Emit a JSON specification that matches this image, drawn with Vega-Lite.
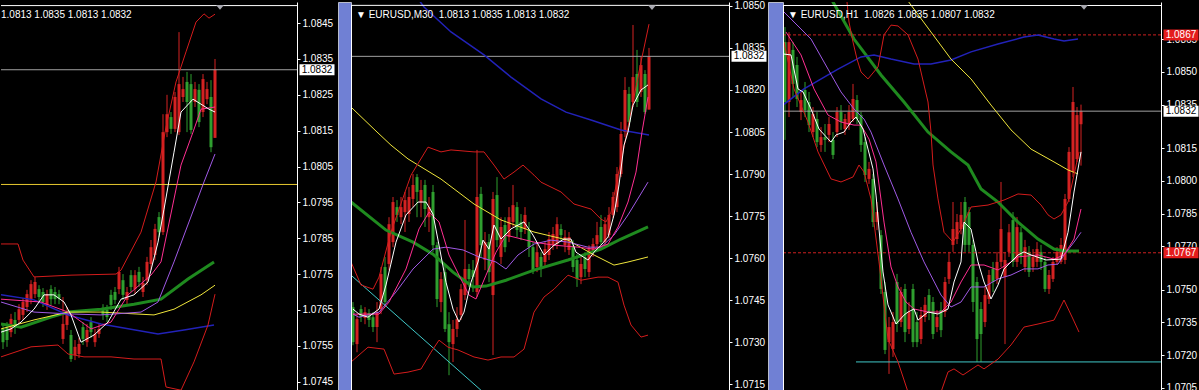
{
"$schema": "https://vega.github.io/schema/vega-lite/v6.json",
"background": "#000000",
"padding": 0,
"spacing": 0,
"bounds": "flush",
"config": {"view": {"stroke": null}, "text": {"font": "Liberation Sans"}},
"datasets": {
"c1": [
{"i":0,"o":1.07597,"h":1.07608,"l":1.07541,"c":1.07560},
{"i":1,"o":1.07602,"h":1.07616,"l":1.07547,"c":1.07566},
{"i":2,"o":1.07588,"h":1.07639,"l":1.07574,"c":1.07625},
{"i":3,"o":1.07622,"h":1.07644,"l":1.07583,"c":1.07602},
{"i":4,"o":1.07622,"h":1.07666,"l":1.07611,"c":1.07652},
{"i":5,"o":1.07636,"h":1.07683,"l":1.07622,"c":1.07672},
{"i":6,"o":1.07658,"h":1.07706,"l":1.07644,"c":1.07694},
{"i":7,"o":1.07680,"h":1.07733,"l":1.07666,"c":1.07722},
{"i":8,"o":1.07694,"h":1.07742,"l":1.07683,"c":1.07728},
{"i":9,"o":1.07708,"h":1.07719,"l":1.07672,"c":1.07686},
{"i":10,"o":1.07700,"h":1.07711,"l":1.07658,"c":1.07672},
{"i":11,"o":1.07664,"h":1.07706,"l":1.07650,"c":1.07694},
{"i":12,"o":1.07708,"h":1.07719,"l":1.07664,"c":1.07680},
{"i":13,"o":1.07700,"h":1.07714,"l":1.07666,"c":1.07680},
{"i":14,"o":1.07694,"h":1.07706,"l":1.07666,"c":1.07682},
{"i":15,"o":1.07569,"h":1.07686,"l":1.07555,"c":1.07611},
{"i":16,"o":1.07608,"h":1.07658,"l":1.07594,"c":1.07639},
{"i":17,"o":1.07580,"h":1.07594,"l":1.07505,"c":1.07513},
{"i":18,"o":1.07524,"h":1.07566,"l":1.07510,"c":1.07547},
{"i":19,"o":1.07527,"h":1.07572,"l":1.07516,"c":1.07555},
{"i":20,"o":1.07602,"h":1.07616,"l":1.07552,"c":1.07569},
{"i":21,"o":1.07560,"h":1.07611,"l":1.07547,"c":1.07594},
{"i":22,"o":1.07616,"h":1.07630,"l":1.07572,"c":1.07588},
{"i":23,"o":1.07560,"h":1.07597,"l":1.07547,"c":1.07583},
{"i":24,"o":1.07583,"h":1.07611,"l":1.07572,"c":1.07597},
{"i":25,"o":1.07652,"h":1.07666,"l":1.07622,"c":1.07636},
{"i":26,"o":1.07650,"h":1.07664,"l":1.07616,"c":1.07630},
{"i":27,"o":1.07692,"h":1.07706,"l":1.07650,"c":1.07664},
{"i":28,"o":1.07700,"h":1.07714,"l":1.07666,"c":1.07678},
{"i":29,"o":1.07708,"h":1.07770,"l":1.07694,"c":1.07756},
{"i":30,"o":1.07733,"h":1.07750,"l":1.07678,"c":1.07692},
{"i":31,"o":1.07678,"h":1.07714,"l":1.07666,"c":1.07700},
{"i":32,"o":1.07747,"h":1.07761,"l":1.07700,"c":1.07714},
{"i":33,"o":1.07708,"h":1.07761,"l":1.07694,"c":1.07747},
{"i":34,"o":1.07756,"h":1.07770,"l":1.07714,"c":1.07728},
{"i":35,"o":1.07700,"h":1.07742,"l":1.07686,"c":1.07725},
{"i":36,"o":1.07733,"h":1.07798,"l":1.07719,"c":1.07784},
{"i":37,"o":1.07778,"h":1.07845,"l":1.07761,"c":1.07825},
{"i":38,"o":1.07803,"h":1.07890,"l":1.07789,"c":1.07876},
{"i":39,"o":1.07909,"h":1.07923,"l":1.07853,"c":1.07867},
{"i":40,"o":1.07867,"h":1.08196,"l":1.07859,"c":1.08146},
{"i":41,"o":1.08146,"h":1.08250,"l":1.08132,"c":1.08196},
{"i":42,"o":1.08188,"h":1.08202,"l":1.08141,"c":1.08155},
{"i":43,"o":1.08155,"h":1.08258,"l":1.08146,"c":1.08244},
{"i":44,"o":1.08146,"h":1.08425,"l":1.08138,"c":1.08280},
{"i":45,"o":1.08244,"h":1.08300,"l":1.08230,"c":1.08266},
{"i":46,"o":1.08286,"h":1.08314,"l":1.08146,"c":1.08230},
{"i":47,"o":1.08280,"h":1.08308,"l":1.08141,"c":1.08152},
{"i":48,"o":1.08230,"h":1.08286,"l":1.08216,"c":1.08266},
{"i":49,"o":1.08264,"h":1.08280,"l":1.08160,"c":1.08174},
{"i":50,"o":1.08202,"h":1.08308,"l":1.08188,"c":1.08294},
{"i":51,"o":1.08238,"h":1.08286,"l":1.08224,"c":1.08266},
{"i":52,"o":1.08244,"h":1.08291,"l":1.08090,"c":1.08104},
{"i":53,"o":1.0813,"h":1.0835,"l":1.0813,"c":1.0832}
],
"c2": [
{"i":0,"o":1.07425,"h":1.07443,"l":1.07289,"c":1.07300},
{"i":1,"o":1.07293,"h":1.07400,"l":1.07264,"c":1.07382},
{"i":2,"o":1.07418,"h":1.07432,"l":1.07372,"c":1.07389},
{"i":3,"o":1.07386,"h":1.07425,"l":1.07364,"c":1.07407},
{"i":4,"o":1.07404,"h":1.07418,"l":1.07354,"c":1.07379},
{"i":5,"o":1.07389,"h":1.07407,"l":1.07336,"c":1.07354},
{"i":6,"o":1.07354,"h":1.07443,"l":1.07300,"c":1.07407},
{"i":7,"o":1.07418,"h":1.07568,"l":1.07400,"c":1.07543},
{"i":8,"o":1.07568,"h":1.07604,"l":1.07425,"c":1.07443},
{"i":9,"o":1.07579,"h":1.07746,"l":1.07557,"c":1.07721},
{"i":10,"o":1.07657,"h":1.07818,"l":1.07639,"c":1.07800},
{"i":11,"o":1.07782,"h":1.07807,"l":1.07729,"c":1.07754},
{"i":12,"o":1.07746,"h":1.07818,"l":1.07721,"c":1.07782},
{"i":13,"o":1.07764,"h":1.07836,"l":1.07693,"c":1.07807},
{"i":14,"o":1.07757,"h":1.07854,"l":1.07729,"c":1.07818},
{"i":15,"o":1.07811,"h":1.07900,"l":1.07782,"c":1.07861},
{"i":16,"o":1.07889,"h":1.07900,"l":1.07746,"c":1.07836},
{"i":17,"o":1.07800,"h":1.07879,"l":1.07746,"c":1.07843},
{"i":18,"o":1.07861,"h":1.07879,"l":1.07711,"c":1.07775},
{"i":19,"o":1.07746,"h":1.07818,"l":1.07693,"c":1.07782},
{"i":20,"o":1.07836,"h":1.07861,"l":1.07621,"c":1.07646},
{"i":21,"o":1.07646,"h":1.07657,"l":1.07425,"c":1.07454},
{"i":22,"o":1.07443,"h":1.07550,"l":1.07407,"c":1.07525},
{"i":23,"o":1.07550,"h":1.07579,"l":1.07336,"c":1.07347},
{"i":24,"o":1.07364,"h":1.07407,"l":1.07182,"c":1.07300},
{"i":25,"o":1.07293,"h":1.07379,"l":1.07229,"c":1.07347},
{"i":26,"o":1.07347,"h":1.07425,"l":1.07318,"c":1.07382},
{"i":27,"o":1.07397,"h":1.07507,"l":1.07379,"c":1.07489},
{"i":28,"o":1.07468,"h":1.07736,"l":1.07450,"c":1.07561},
{"i":29,"o":1.07561,"h":1.07579,"l":1.07497,"c":1.07525},
{"i":30,"o":1.07557,"h":1.07593,"l":1.07479,"c":1.07532},
{"i":31,"o":1.07479,"h":1.07986,"l":1.07461,"c":1.07818},
{"i":32,"o":1.07829,"h":1.07854,"l":1.07604,"c":1.07646},
{"i":33,"o":1.07593,"h":1.07693,"l":1.07557,"c":1.07657},
{"i":34,"o":1.07657,"h":1.07686,"l":1.07514,"c":1.07550},
{"i":35,"o":1.07468,"h":1.07836,"l":1.07254,"c":1.07811},
{"i":36,"o":1.07825,"h":1.07889,"l":1.07639,"c":1.07664},
{"i":37,"o":1.07604,"h":1.07746,"l":1.07579,"c":1.07711},
{"i":38,"o":1.07718,"h":1.07746,"l":1.07621,"c":1.07639},
{"i":39,"o":1.07675,"h":1.07782,"l":1.07657,"c":1.07746},
{"i":40,"o":1.07729,"h":1.07861,"l":1.07711,"c":1.07789},
{"i":41,"o":1.07782,"h":1.07800,"l":1.07675,"c":1.07700},
{"i":42,"o":1.07729,"h":1.07757,"l":1.07664,"c":1.07693},
{"i":43,"o":1.07704,"h":1.07782,"l":1.07686,"c":1.07754},
{"i":44,"o":1.07700,"h":1.07729,"l":1.07604,"c":1.07639},
{"i":45,"o":1.07639,"h":1.07657,"l":1.07543,"c":1.07557},
{"i":46,"o":1.07568,"h":1.07650,"l":1.07550,"c":1.07621},
{"i":47,"o":1.07604,"h":1.07621,"l":1.07532,"c":1.07568},
{"i":48,"o":1.07586,"h":1.07657,"l":1.07568,"c":1.07632},
{"i":49,"o":1.07611,"h":1.07693,"l":1.07593,"c":1.07668},
{"i":50,"o":1.07646,"h":1.07711,"l":1.07629,"c":1.07686},
{"i":51,"o":1.07650,"h":1.07746,"l":1.07632,"c":1.07721},
{"i":52,"o":1.07704,"h":1.07721,"l":1.07664,"c":1.07682},
{"i":53,"o":1.07646,"h":1.07700,"l":1.07621,"c":1.07675},
{"i":54,"o":1.07629,"h":1.07693,"l":1.07611,"c":1.07675},
{"i":55,"o":1.07639,"h":1.07664,"l":1.07550,"c":1.07568},
{"i":56,"o":1.07593,"h":1.07614,"l":1.07497,"c":1.07525},
{"i":57,"o":1.07532,"h":1.07604,"l":1.07507,"c":1.07579},
{"i":58,"o":1.07604,"h":1.07621,"l":1.07532,"c":1.07561},
{"i":59,"o":1.07550,"h":1.07646,"l":1.07532,"c":1.07632},
{"i":60,"o":1.07621,"h":1.07671,"l":1.07604,"c":1.07650},
{"i":61,"o":1.07650,"h":1.07729,"l":1.07636,"c":1.07682},
{"i":62,"o":1.07711,"h":1.07754,"l":1.07646,"c":1.07657},
{"i":63,"o":1.07657,"h":1.07746,"l":1.07643,"c":1.07721},
{"i":64,"o":1.07682,"h":1.07782,"l":1.07671,"c":1.07754},
{"i":65,"o":1.07754,"h":1.07836,"l":1.07743,"c":1.07818},
{"i":66,"o":1.07782,"h":1.07925,"l":1.07764,"c":1.07900},
{"i":67,"o":1.07900,"h":1.08086,"l":1.07889,"c":1.08043},
{"i":68,"o":1.08050,"h":1.08246,"l":1.08032,"c":1.08200},
{"i":69,"o":1.08186,"h":1.08211,"l":1.08068,"c":1.08086},
{"i":70,"o":1.08157,"h":1.08432,"l":1.08139,"c":1.08246},
{"i":71,"o":1.08257,"h":1.08343,"l":1.08139,"c":1.08157},
{"i":72,"o":1.08193,"h":1.08318,"l":1.08175,"c":1.08289},
{"i":73,"o":1.08257,"h":1.08271,"l":1.08114,"c":1.08121},
{"i":74,"o":1.0813,"h":1.0835,"l":1.0813,"c":1.0832}
],
"c3": [
{"i":0,"o":1.08637,"h":1.08706,"l":1.08188,"c":1.08362},
{"i":1,"o":1.08362,"h":1.08683,"l":1.08293,"c":1.08637},
{"i":2,"o":1.08601,"h":1.08637,"l":1.08385,"c":1.08445},
{"i":3,"o":1.08532,"h":1.08569,"l":1.08339,"c":1.08376},
{"i":4,"o":1.08316,"h":1.08408,"l":1.08279,"c":1.08371},
{"i":5,"o":1.08417,"h":1.08454,"l":1.08293,"c":1.08325},
{"i":6,"o":1.08362,"h":1.08408,"l":1.08224,"c":1.08256},
{"i":7,"o":1.08224,"h":1.08339,"l":1.08201,"c":1.08307},
{"i":8,"o":1.08284,"h":1.08316,"l":1.08155,"c":1.08178},
{"i":9,"o":1.08165,"h":1.08247,"l":1.08133,"c":1.08201},
{"i":10,"o":1.08201,"h":1.08261,"l":1.08133,"c":1.08188},
{"i":11,"o":1.08211,"h":1.08293,"l":1.08178,"c":1.08261},
{"i":12,"o":1.08188,"h":1.08224,"l":1.08100,"c":1.08119},
{"i":13,"o":1.08224,"h":1.08339,"l":1.08201,"c":1.08316},
{"i":14,"o":1.08316,"h":1.08348,"l":1.08234,"c":1.08270},
{"i":15,"o":1.08238,"h":1.08307,"l":1.08211,"c":1.08284},
{"i":16,"o":1.08256,"h":1.08348,"l":1.08234,"c":1.08316},
{"i":17,"o":1.08284,"h":1.08445,"l":1.08270,"c":1.08376},
{"i":18,"o":1.08371,"h":1.08394,"l":1.08261,"c":1.08284},
{"i":19,"o":1.08302,"h":1.08316,"l":1.08133,"c":1.08165},
{"i":20,"o":1.08178,"h":1.08201,"l":1.07995,"c":1.08027},
{"i":21,"o":1.08009,"h":1.08087,"l":1.07986,"c":1.08055},
{"i":22,"o":1.08009,"h":1.08032,"l":1.07788,"c":1.07811},
{"i":23,"o":1.07811,"h":1.07903,"l":1.07774,"c":1.07857},
{"i":24,"o":1.07751,"h":1.07774,"l":1.07481,"c":1.07504},
{"i":25,"o":1.07490,"h":1.07536,"l":1.07205,"c":1.07224},
{"i":26,"o":1.07260,"h":1.07375,"l":1.07114,"c":1.07329},
{"i":27,"o":1.07228,"h":1.07398,"l":1.07192,"c":1.07352},
{"i":28,"o":1.07536,"h":1.07573,"l":1.07306,"c":1.07343},
{"i":29,"o":1.07352,"h":1.07513,"l":1.07329,"c":1.07490},
{"i":30,"o":1.07504,"h":1.07527,"l":1.07260,"c":1.07306},
{"i":31,"o":1.07320,"h":1.07444,"l":1.07297,"c":1.07398},
{"i":32,"o":1.07504,"h":1.07527,"l":1.07237,"c":1.07260},
{"i":33,"o":1.07352,"h":1.07398,"l":1.07237,"c":1.07260},
{"i":34,"o":1.07274,"h":1.07421,"l":1.07251,"c":1.07384},
{"i":35,"o":1.07375,"h":1.07467,"l":1.07352,"c":1.07431},
{"i":36,"o":1.07476,"h":1.07504,"l":1.07361,"c":1.07398},
{"i":37,"o":1.07444,"h":1.07467,"l":1.07274,"c":1.07297},
{"i":38,"o":1.07329,"h":1.07407,"l":1.07306,"c":1.07375},
{"i":39,"o":1.07407,"h":1.07444,"l":1.07283,"c":1.07315},
{"i":40,"o":1.07398,"h":1.07559,"l":1.07375,"c":1.07536},
{"i":41,"o":1.07550,"h":1.07674,"l":1.07527,"c":1.07628},
{"i":42,"o":1.07706,"h":1.07903,"l":1.07674,"c":1.07779},
{"i":43,"o":1.07733,"h":1.07848,"l":1.07710,"c":1.07811},
{"i":44,"o":1.07779,"h":1.07903,"l":1.07755,"c":1.07844},
{"i":45,"o":1.07903,"h":1.07926,"l":1.07674,"c":1.07706},
{"i":46,"o":1.07857,"h":1.07880,"l":1.07674,"c":1.07706},
{"i":47,"o":1.07706,"h":1.07729,"l":1.07398,"c":1.07444},
{"i":48,"o":1.07536,"h":1.07559,"l":1.07169,"c":1.07274},
{"i":49,"o":1.07412,"h":1.07444,"l":1.07169,"c":1.07297},
{"i":50,"o":1.07352,"h":1.07513,"l":1.07329,"c":1.07476},
{"i":51,"o":1.07458,"h":1.07591,"l":1.07435,"c":1.07568},
{"i":52,"o":1.07596,"h":1.07628,"l":1.07490,"c":1.07536},
{"i":53,"o":1.07550,"h":1.07674,"l":1.07527,"c":1.07628},
{"i":54,"o":1.07628,"h":1.07995,"l":1.07605,"c":1.07779},
{"i":55,"o":1.07559,"h":1.07674,"l":1.07251,"c":1.07637},
{"i":56,"o":1.07674,"h":1.07802,"l":1.07651,"c":1.07764},
{"i":57,"o":1.07820,"h":1.07857,"l":1.07605,"c":1.07628},
{"i":58,"o":1.07628,"h":1.07834,"l":1.07605,"c":1.07788},
{"i":59,"o":1.07764,"h":1.07788,"l":1.07618,"c":1.07651},
{"i":60,"o":1.07605,"h":1.07729,"l":1.07582,"c":1.07696},
{"i":61,"o":1.07674,"h":1.07701,"l":1.07559,"c":1.07582},
{"i":62,"o":1.07605,"h":1.07687,"l":1.07582,"c":1.07651},
{"i":63,"o":1.07628,"h":1.07719,"l":1.07605,"c":1.07687},
{"i":64,"o":1.07674,"h":1.07706,"l":1.07591,"c":1.07628},
{"i":65,"o":1.07628,"h":1.07651,"l":1.07490,"c":1.07504},
{"i":66,"o":1.07504,"h":1.07591,"l":1.07481,"c":1.07568},
{"i":67,"o":1.07550,"h":1.07651,"l":1.07536,"c":1.07628},
{"i":68,"o":1.07628,"h":1.07696,"l":1.07614,"c":1.07674},
{"i":69,"o":1.07628,"h":1.07738,"l":1.07618,"c":1.07706},
{"i":70,"o":1.07637,"h":1.07940,"l":1.07618,"c":1.07917},
{"i":71,"o":1.07917,"h":1.08155,"l":1.07903,"c":1.08133},
{"i":72,"o":1.08041,"h":1.08431,"l":1.08018,"c":1.08362},
{"i":73,"o":1.08100,"h":1.08339,"l":1.08087,"c":1.08302},
{"i":74,"o":1.0826,"h":1.0835,"l":1.0807,"c":1.0832}
],
"l1": [
{"s":"g","i":-0.5,"p":1.07611},{"s":"g","i":4.5,"p":1.07602},{"s":"g","i":12,"p":1.07630},{"s":"g","i":16.25,"p":1.07644},{"s":"g","i":24.5,"p":1.07652},{"s":"g","i":32.75,"p":1.07666},{"s":"g","i":39.5,"p":1.07680},{"s":"g","i":46.25,"p":1.07736},{"s":"g","i":52.75,"p":1.07784},
{"s":"b","i":-0.5,"p":1.07692},{"s":"b","i":7.75,"p":1.07678},{"s":"b","i":16.25,"p":1.07636},{"s":"b","i":24.5,"p":1.07611},{"s":"b","i":38.75,"p":1.07583},{"s":"b","i":45.25,"p":1.07594},{"s":"b","i":52.75,"p":1.07608},
{"s":"ub","i":-0.5,"p":1.07834},{"s":"ub","i":3.75,"p":1.07834},{"s":"ub","i":5,"p":1.07789},{"s":"ub","i":7.75,"p":1.07742},{"s":"ub","i":17,"p":1.07747},{"s":"ub","i":28.25,"p":1.07750},{"s":"ub","i":29.5,"p":1.07761},{"s":"ub","i":34.5,"p":1.07867},{"s":"ub","i":38.25,"p":1.08007},{"s":"ub","i":40.75,"p":1.08160},{"s":"ub","i":43.25,"p":1.08286},{"s":"ub","i":45.75,"p":1.08370},{"s":"ub","i":48.25,"p":1.08453},{"s":"ub","i":50.25,"p":1.08476},{"s":"ub","i":51.5,"p":1.08464},{"s":"ub","i":53,"p":1.08475},
{"s":"lb","i":-0.5,"p":1.07519},{"s":"lb","i":7,"p":1.07547},{"s":"lb","i":13.75,"p":1.07552},{"s":"lb","i":16.25,"p":1.07527},{"s":"lb","i":20.25,"p":1.07519},{"s":"lb","i":27,"p":1.07519},{"s":"lb","i":32.75,"p":1.07513},{"s":"lb","i":39.5,"p":1.07513},{"s":"lb","i":40.75,"p":1.07435},{"s":"lb","i":44.5,"p":1.07426},{"s":"lb","i":47.75,"p":1.07505},{"s":"lb","i":51.25,"p":1.07608},{"s":"lb","i":53,"p":1.07694},
{"s":"y","i":-0.5,"p":1.07597},{"s":"y","i":7.75,"p":1.07622},{"s":"y","i":16.25,"p":1.07644},{"s":"y","i":24.5,"p":1.07644},{"s":"y","i":37.75,"p":1.07636},{"s":"y","i":42.75,"p":1.07652},{"s":"y","i":49.5,"p":1.07692},{"s":"y","i":53,"p":1.07719},
{"s":"pu","i":-0.5,"p":1.07672},{"s":"pu","i":7.75,"p":1.07644},{"s":"pu","i":16.25,"p":1.07639},{"s":"pu","i":24.5,"p":1.07636},{"s":"pu","i":34.5,"p":1.07644},{"s":"pu","i":38.75,"p":1.07672},{"s":"pu","i":42.75,"p":1.07784},{"s":"pu","i":50.25,"p":1.08007},{"s":"pu","i":53,"p":1.08085},
{"s":"pk","i":-0.5,"p":1.07680},{"s":"pk","i":9.5,"p":1.07672},{"s":"pk","i":16.25,"p":1.07644},{"s":"pk","i":22,"p":1.07597},{"s":"pk","i":27,"p":1.07616},{"s":"pk","i":31.25,"p":1.07692},{"s":"pk","i":37,"p":1.07747},{"s":"pk","i":39.5,"p":1.07784},{"s":"pk","i":44.5,"p":1.08054},{"s":"pk","i":47.5,"p":1.08146},{"s":"pk","i":49.5,"p":1.08210},{"s":"pk","i":53,"p":1.08216},
{"s":"w","i":-0.5,"p":1.07588},{"s":"w","i":2,"p":1.07597},{"s":"w","i":4.5,"p":1.07616},{"s":"w","i":7.75,"p":1.07652},{"s":"w","i":10.25,"p":1.07692},{"s":"w","i":12.75,"p":1.07692},{"s":"w","i":15.25,"p":1.07672},{"s":"w","i":17,"p":1.07636},{"s":"w","i":19.5,"p":1.07560},{"s":"w","i":22.75,"p":1.07580},{"s":"w","i":26.25,"p":1.07616},{"s":"w","i":29.5,"p":1.07680},{"s":"w","i":32.75,"p":1.07692},{"s":"w","i":36.25,"p":1.07728},{"s":"w","i":38.75,"p":1.07839},{"s":"w","i":40.25,"p":1.07931},{"s":"w","i":42.75,"p":1.08090},{"s":"w","i":44.5,"p":1.08202},{"s":"w","i":47.5,"p":1.08238},{"s":"w","i":49.5,"p":1.08224},{"s":"w","i":51.5,"p":1.08210},{"s":"w","i":53,"p":1.08202}
],
"l2": [
{"s":"g","i":-0.5,"p":1.07800},{"s":"g","i":8.25,"p":1.07700},{"s":"g","i":15,"p":1.07657},{"s":"g","i":20,"p":1.07614},{"s":"g","i":25,"p":1.07550},{"s":"g","i":30,"p":1.07497},{"s":"g","i":33.25,"p":1.07500},{"s":"g","i":38.25,"p":1.07521},{"s":"g","i":45.25,"p":1.07557},{"s":"g","i":53.75,"p":1.07593},{"s":"g","i":62,"p":1.07632},{"s":"g","i":67,"p":1.07668},{"s":"g","i":73.75,"p":1.07711},
{"s":"b","i":13.25,"p":1.08585},{"s":"b","i":17.75,"p":1.08496},{"s":"b","i":24.5,"p":1.08407},{"s":"b","i":32.75,"p":1.08325},{"s":"b","i":39.5,"p":1.08246},{"s":"b","i":47,"p":1.08168},{"s":"b","i":53.25,"p":1.08121},{"s":"b","i":59.5,"p":1.08093},{"s":"b","i":67,"p":1.08057},{"s":"b","i":74,"p":1.08039},
{"s":"y","i":-0.5,"p":1.08139},{"s":"y","i":6,"p":1.08050},{"s":"y","i":9.5,"p":1.08003},{"s":"y","i":13.75,"p":1.07954},{"s":"y","i":22,"p":1.07882},{"s":"y","i":30.25,"p":1.07793},{"s":"y","i":37,"p":1.07736},{"s":"y","i":45.25,"p":1.07693},{"s":"y","i":53.75,"p":1.07664},{"s":"y","i":60.25,"p":1.07611},{"s":"y","i":65.25,"p":1.07575},{"s":"y","i":68.75,"p":1.07586},{"s":"y","i":73.75,"p":1.07604},
{"s":"cy","i":-0.5,"p":1.07539},{"s":"cy","i":37,"p":1.07065},
{"s":"ub","i":-0.5,"p":1.07586},{"s":"ub","i":2,"p":1.07504},{"s":"ub","i":5,"p":1.07489},{"s":"ub","i":6.5,"p":1.07532},{"s":"ub","i":9.5,"p":1.07693},{"s":"ub","i":14.5,"p":1.07896},{"s":"ub","i":18.75,"p":1.07996},{"s":"ub","i":22,"p":1.07979},{"s":"ub","i":24.5,"p":1.07986},{"s":"ub","i":30.25,"p":1.07979},{"s":"ub","i":32.75,"p":1.07979},{"s":"ub","i":35.25,"p":1.07932},{"s":"ub","i":37.75,"p":1.07882},{"s":"ub","i":40.25,"p":1.07907},{"s":"ub","i":42.5,"p":1.07932},{"s":"ub","i":45.25,"p":1.07896},{"s":"ub","i":47,"p":1.07871},{"s":"ub","i":52,"p":1.07836},{"s":"ub","i":55.25,"p":1.07793},{"s":"ub","i":59.5,"p":1.07775},{"s":"ub","i":62,"p":1.07739},{"s":"ub","i":63.25,"p":1.07729},{"s":"ub","i":64.5,"p":1.07764},{"s":"ub","i":66.25,"p":1.07896},{"s":"ub","i":67,"p":1.07943},{"s":"ub","i":69.5,"p":1.08121},{"s":"ub","i":72,"p":1.08300},{"s":"ub","i":74,"p":1.08435},
{"s":"lb","i":-0.5,"p":1.07229},{"s":"lb","i":3.75,"p":1.07282},{"s":"lb","i":7.75,"p":1.07275},{"s":"lb","i":10.25,"p":1.07186},{"s":"lb","i":13.75,"p":1.07193},{"s":"lb","i":17,"p":1.07204},{"s":"lb","i":19.5,"p":1.07264},{"s":"lb","i":21.5,"p":1.07307},{"s":"lb","i":23.75,"p":1.07282},{"s":"lb","i":26.25,"p":1.07272},{"s":"lb","i":30.25,"p":1.07247},{"s":"lb","i":33.75,"p":1.07236},{"s":"lb","i":37,"p":1.07247},{"s":"lb","i":40.25,"p":1.07247},{"s":"lb","i":42.75,"p":1.07275},{"s":"lb","i":45.25,"p":1.07407},{"s":"lb","i":47.75,"p":1.07461},{"s":"lb","i":50.25,"p":1.07489},{"s":"lb","i":53.75,"p":1.07539},{"s":"lb","i":57,"p":1.07521},{"s":"lb","i":61.25,"p":1.07532},{"s":"lb","i":63.75,"p":1.07532},{"s":"lb","i":66.25,"p":1.07514},{"s":"lb","i":67.75,"p":1.07432},{"s":"lb","i":69.5,"p":1.07361},{"s":"lb","i":72,"p":1.07318},{"s":"lb","i":73.75,"p":1.07325},
{"s":"pu","i":0,"p":1.07400},{"s":"pu","i":1.5,"p":1.07389},{"s":"pu","i":6.5,"p":1.07407},{"s":"pu","i":10.75,"p":1.07479},{"s":"pu","i":15,"p":1.07561},{"s":"pu","i":20,"p":1.07632},{"s":"pu","i":23.25,"p":1.07639},{"s":"pu","i":27.5,"p":1.07629},{"s":"pu","i":31.5,"p":1.07604},{"s":"pu","i":35.75,"p":1.07586},{"s":"pu","i":38.25,"p":1.07561},{"s":"pu","i":41.25,"p":1.07611},{"s":"pu","i":45.25,"p":1.07650},{"s":"pu","i":49.5,"p":1.07664},{"s":"pu","i":53.75,"p":1.07657},{"s":"pu","i":58.75,"p":1.07639},{"s":"pu","i":62,"p":1.07639},{"s":"pu","i":65.25,"p":1.07682},{"s":"pu","i":68.75,"p":1.07754},{"s":"pu","i":73.75,"p":1.07871},
{"s":"pk","i":0,"p":1.07400},{"s":"pk","i":6.5,"p":1.07400},{"s":"pk","i":9,"p":1.07443},{"s":"pk","i":13.25,"p":1.07561},{"s":"pk","i":16.5,"p":1.07704},{"s":"pk","i":19,"p":1.07764},{"s":"pk","i":21.5,"p":1.07729},{"s":"pk","i":24,"p":1.07611},{"s":"pk","i":26.5,"p":1.07539},{"s":"pk","i":29,"p":1.07468},{"s":"pk","i":30.75,"p":1.07454},{"s":"pk","i":33.25,"p":1.07539},{"s":"pk","i":35.75,"p":1.07621},{"s":"pk","i":38.25,"p":1.07682},{"s":"pk","i":45.25,"p":1.07657},{"s":"pk","i":50.25,"p":1.07646},{"s":"pk","i":56.25,"p":1.07639},{"s":"pk","i":60.25,"p":1.07632},{"s":"pk","i":63.75,"p":1.07650},{"s":"pk","i":66.25,"p":1.07711},{"s":"pk","i":68.75,"p":1.07800},{"s":"pk","i":70.75,"p":1.07907},{"s":"pk","i":72.25,"p":1.08050},{"s":"pk","i":73.75,"p":1.08175},
{"s":"w","i":0,"p":1.07418},{"s":"w","i":1.5,"p":1.07400},{"s":"w","i":3.75,"p":1.07389},{"s":"w","i":6.5,"p":1.07418},{"s":"w","i":8.25,"p":1.07504},{"s":"w","i":10.75,"p":1.07657},{"s":"w","i":13.25,"p":1.07754},{"s":"w","i":16.25,"p":1.07800},{"s":"w","i":18.25,"p":1.07800},{"s":"w","i":20,"p":1.07757},{"s":"w","i":21.5,"p":1.07646},{"s":"w","i":23.25,"p":1.07514},{"s":"w","i":25,"p":1.07418},{"s":"w","i":26.5,"p":1.07372},{"s":"w","i":27.75,"p":1.07407},{"s":"w","i":29.5,"p":1.07514},{"s":"w","i":31.25,"p":1.07586},{"s":"w","i":32.5,"p":1.07664},{"s":"w","i":34,"p":1.07632},{"s":"w","i":35.25,"p":1.07718},{"s":"w","i":37,"p":1.07668},{"s":"w","i":39.5,"p":1.07704},{"s":"w","i":42.75,"p":1.07729},{"s":"w","i":45,"p":1.07682},{"s":"w","i":47.75,"p":1.07611},{"s":"w","i":50.25,"p":1.07646},{"s":"w","i":52.75,"p":1.07668},{"s":"w","i":54.5,"p":1.07668},{"s":"w","i":55.75,"p":1.07621},{"s":"w","i":58.75,"p":1.07593},{"s":"w","i":60.25,"p":1.07621},{"s":"w","i":62,"p":1.07646},{"s":"w","i":63.75,"p":1.07675},{"s":"w","i":65.25,"p":1.07754},{"s":"w","i":66.5,"p":1.07861},{"s":"w","i":67.75,"p":1.08003},{"s":"w","i":68.75,"p":1.08050},{"s":"w","i":70,"p":1.08146},{"s":"w","i":72,"p":1.08200},{"s":"w","i":73.75,"p":1.08218}
],
"l3": [
{"s":"g","i":9,"p":1.08913},{"s":"g","i":12,"p":1.08821},{"s":"g","i":17.25,"p":1.08651},{"s":"g","i":24,"p":1.08486},{"s":"g","i":29.75,"p":1.08362},{"s":"g","i":35.75,"p":1.08224},{"s":"g","i":41.5,"p":1.08133},{"s":"g","i":45.75,"p":1.08073},{"s":"g","i":49,"p":1.07963},{"s":"g","i":53.25,"p":1.07903},{"s":"g","i":58.25,"p":1.07811},{"s":"g","i":63.25,"p":1.07733},{"s":"g","i":67.25,"p":1.07687},{"s":"g","i":69.75,"p":1.07678},{"s":"g","i":73.5,"p":1.07678},
{"s":"b","i":-0.5,"p":1.08348},{"s":"b","i":4.75,"p":1.08422},{"s":"b","i":13.25,"p":1.08513},{"s":"b","i":19,"p":1.08569},{"s":"b","i":22.25,"p":1.08578},{"s":"b","i":26.5,"p":1.08559},{"s":"b","i":32.25,"p":1.08536},{"s":"b","i":36.5,"p":1.08536},{"s":"b","i":41.5,"p":1.08555},{"s":"b","i":46.5,"p":1.08592},{"s":"b","i":53.25,"p":1.08628},{"s":"b","i":59.75,"p":1.08660},{"s":"b","i":63.25,"p":1.08670},{"s":"b","i":67.25,"p":1.08651},{"s":"b","i":69.75,"p":1.08642},{"s":"b","i":73.25,"p":1.08651},
{"s":"y","i":27.75,"p":1.08899},{"s":"y","i":31.5,"p":1.08807},{"s":"y","i":36.5,"p":1.08683},{"s":"y","i":41.5,"p":1.08559},{"s":"y","i":46.5,"p":1.08468},{"s":"y","i":51.5,"p":1.08348},{"s":"y","i":56.5,"p":1.08234},{"s":"y","i":61.5,"p":1.08146},{"s":"y","i":67.25,"p":1.08087},{"s":"y","i":70.75,"p":1.08050},{"s":"y","i":73.25,"p":1.08032},
{"s":"cy","i":17.75,"p":1.07169},{"s":"cy","i":94,"p":1.07169},
{"s":"ub","i":15.25,"p":1.08867},{"s":"ub","i":16,"p":1.08729},{"s":"ub","i":17,"p":1.08637},{"s":"ub","i":18,"p":1.08559},{"s":"ub","i":19,"p":1.08500},{"s":"ub","i":20.75,"p":1.08468},{"s":"ub","i":23.25,"p":1.08523},{"s":"ub","i":24.75,"p":1.08670},{"s":"ub","i":26.5,"p":1.08715},{"s":"ub","i":28.25,"p":1.08711},{"s":"ub","i":30.75,"p":1.08670},{"s":"ub","i":33.25,"p":1.08559},{"s":"ub","i":34.75,"p":1.08440},{"s":"ub","i":35.75,"p":1.08362},{"s":"ub","i":36.5,"p":1.08224},{"s":"ub","i":37,"p":1.08073},{"s":"ub","i":38.25,"p":1.07917},{"s":"ub","i":39.75,"p":1.07764},{"s":"ub","i":42,"p":1.07719},{"s":"ub","i":44,"p":1.07779},{"s":"ub","i":46.5,"p":1.07880},{"s":"ub","i":50.75,"p":1.07889},{"s":"ub","i":54.75,"p":1.07912},{"s":"ub","i":58.25,"p":1.07940},{"s":"ub","i":61.5,"p":1.07935},{"s":"ub","i":64,"p":1.07889},{"s":"ub","i":65.75,"p":1.07844},{"s":"ub","i":67.25,"p":1.07825},{"s":"ub","i":69,"p":1.07844},{"s":"ub","i":70.75,"p":1.07903},{"s":"ub","i":72.25,"p":1.08027},{"s":"ub","i":73.5,"p":1.08133},
{"s":"lb","i":-0.25,"p":1.08637},{"s":"lb","i":2.25,"p":1.08422},{"s":"lb","i":5.75,"p":1.08270},{"s":"lb","i":8.25,"p":1.08133},{"s":"lb","i":11.5,"p":1.08009},{"s":"lb","i":14,"p":1.07995},{"s":"lb","i":17,"p":1.08018},{"s":"lb","i":18.5,"p":1.08073},{"s":"lb","i":19.75,"p":1.08041},{"s":"lb","i":21.5,"p":1.07917},{"s":"lb","i":23.5,"p":1.07628},{"s":"lb","i":25.75,"p":1.07274},{"s":"lb","i":28.25,"p":1.07169},{"s":"lb","i":30.75,"p":1.07031},{"s":"lb","i":32.75,"p":1.06893},{"s":"lb","i":37.75,"p":1.06893},{"s":"lb","i":39,"p":1.07031},{"s":"lb","i":40.75,"p":1.07123},{"s":"lb","i":42.25,"p":1.07137},{"s":"lb","i":44.5,"p":1.07109},{"s":"lb","i":48.25,"p":1.07155},{"s":"lb","i":49.75,"p":1.07137},{"s":"lb","i":53.25,"p":1.07182},{"s":"lb","i":56.5,"p":1.07247},{"s":"lb","i":59.75,"p":1.07329},{"s":"lb","i":63.25,"p":1.07343},{"s":"lb","i":67.25,"p":1.07361},{"s":"lb","i":69.75,"p":1.07453},{"s":"lb","i":72,"p":1.07366},{"s":"lb","i":73.5,"p":1.07306},
{"s":"pu","i":-0.25,"p":1.08775},{"s":"pu","i":1.5,"p":1.08743},{"s":"pu","i":6.5,"p":1.08651},{"s":"pu","i":10.75,"p":1.08513},{"s":"pu","i":14,"p":1.08408},{"s":"pu","i":17.25,"p":1.08330},{"s":"pu","i":19.75,"p":1.08284},{"s":"pu","i":21.5,"p":1.08224},{"s":"pu","i":24.75,"p":1.08073},{"s":"pu","i":28.25,"p":1.07917},{"s":"pu","i":31.5,"p":1.07764},{"s":"pu","i":34.75,"p":1.07628},{"s":"pu","i":39,"p":1.07476},{"s":"pu","i":41.5,"p":1.07421},{"s":"pu","i":44,"p":1.07444},{"s":"pu","i":46.5,"p":1.07513},{"s":"pu","i":49.75,"p":1.07513},{"s":"pu","i":53.25,"p":1.07550},{"s":"pu","i":56.5,"p":1.07568},{"s":"pu","i":59.75,"p":1.07596},{"s":"pu","i":63.25,"p":1.07596},{"s":"pu","i":65.75,"p":1.07614},{"s":"pu","i":68.25,"p":1.07618},{"s":"pu","i":69.75,"p":1.07660},{"s":"pu","i":72.25,"p":1.07719},{"s":"pu","i":74,"p":1.07764},
{"s":"pk","i":0.25,"p":1.08683},{"s":"pk","i":4,"p":1.08578},{"s":"pk","i":7.25,"p":1.08422},{"s":"pk","i":10.75,"p":1.08302},{"s":"pk","i":14,"p":1.08270},{"s":"pk","i":17.25,"p":1.08256},{"s":"pk","i":19,"p":1.08256},{"s":"pk","i":21,"p":1.08192},{"s":"pk","i":22.75,"p":1.08087},{"s":"pk","i":24.75,"p":1.07811},{"s":"pk","i":26.5,"p":1.07605},{"s":"pk","i":28.25,"p":1.07513},{"s":"pk","i":30.25,"p":1.07444},{"s":"pk","i":32.25,"p":1.07412},{"s":"pk","i":35.75,"p":1.07398},{"s":"pk","i":39,"p":1.07398},{"s":"pk","i":41.5,"p":1.07444},{"s":"pk","i":44,"p":1.07536},{"s":"pk","i":46.5,"p":1.07614},{"s":"pk","i":49.75,"p":1.07614},{"s":"pk","i":53.25,"p":1.07591},{"s":"pk","i":56.5,"p":1.07628},{"s":"pk","i":58.25,"p":1.07651},{"s":"pk","i":63.25,"p":1.07660},{"s":"pk","i":67.25,"p":1.07641},{"s":"pk","i":69.75,"p":1.07660},{"s":"pk","i":72.25,"p":1.07733},{"s":"pk","i":74,"p":1.07871},
{"s":"w","i":-0.25,"p":1.08582},{"s":"w","i":1.5,"p":1.08578},{"s":"w","i":3.25,"p":1.08422},{"s":"w","i":4.5,"p":1.08408},{"s":"w","i":6.5,"p":1.08330},{"s":"w","i":8.5,"p":1.08238},{"s":"w","i":11.5,"p":1.08178},{"s":"w","i":12.75,"p":1.08211},{"s":"w","i":14.75,"p":1.08224},{"s":"w","i":16.5,"p":1.08270},{"s":"w","i":17.75,"p":1.08293},{"s":"w","i":19.5,"p":1.08238},{"s":"w","i":20.75,"p":1.08146},{"s":"w","i":22,"p":1.08055},{"s":"w","i":22.75,"p":1.07935},{"s":"w","i":23.5,"p":1.07779},{"s":"w","i":24.5,"p":1.07582},{"s":"w","i":25.75,"p":1.07431},{"s":"w","i":27.75,"p":1.07343},{"s":"w","i":29.75,"p":1.07384},{"s":"w","i":30.75,"p":1.07398},{"s":"w","i":32.25,"p":1.07412},{"s":"w","i":33.25,"p":1.07361},{"s":"w","i":35.75,"p":1.07398},{"s":"w","i":38.25,"p":1.07389},{"s":"w","i":40.75,"p":1.07412},{"s":"w","i":42.25,"p":1.07536},{"s":"w","i":44,"p":1.07628},{"s":"w","i":44.75,"p":1.07811},{"s":"w","i":46.5,"p":1.07779},{"s":"w","i":47.75,"p":1.07674},{"s":"w","i":48.25,"p":1.07628},{"s":"w","i":49.75,"p":1.07536},{"s":"w","i":51.5,"p":1.07458},{"s":"w","i":53.25,"p":1.07522},{"s":"w","i":54.75,"p":1.07596},{"s":"w","i":56.5,"p":1.07628},{"s":"w","i":58.25,"p":1.07660},{"s":"w","i":59.75,"p":1.07674},{"s":"w","i":61.5,"p":1.07660},{"s":"w","i":65.25,"p":1.07637},{"s":"w","i":69,"p":1.07641},{"s":"w","i":70.75,"p":1.07764},{"s":"w","i":72.25,"p":1.07949},{"s":"w","i":74,"p":1.08133}
],
"lab1": [{"p":1.0832,"t":"1.0832","k":"bid"}],
"lab2": [{"p":1.0832,"t":"1.0832","k":"bid"}],
"lab3": [{"p":1.0867,"t":"1.0867","k":"stop"},{"p":1.0832,"t":"1.0832","k":"bid"},{"p":1.0767,"t":"1.0767","k":"stop"}]
},
"hconcat": [
{
"width": 296, "height": 390,
"layer": [
{"data": {"name": "c1"}, "mark": {"type": "rule", "strokeWidth": 1},
 "encoding": {"x": {"field": "i", "type": "quantitative", "axis": null, "scale": {"domain": [-0.5, 73.5], "nice": false, "zero": false, "padding": 0}},
  "y": {"field": "l", "type": "quantitative", "scale": {"domain": [1.07421, 1.08509], "nice": false, "zero": false, "padding": 0},
   "axis": {"orient": "right", "values": [1.0745,1.0755,1.0765,1.0775,1.0785,1.0795,1.0805,1.0815,1.0825,1.0835,1.0845], "tickCount": 40, "format": ".4f", "title": null, "grid": false, "labelColor": "#ffffff", "labelFont": "Liberation Sans", "labelFontSize": 10, "labelAlign": "left", "labelBaseline": "middle", "labelPadding": 2, "labelOverlap": false, "labelFlush": false, "tickColor": "#ffffff", "tickSize": 3, "domainColor": "#ffffff", "domainWidth": 1}},
  "y2": {"field": "h"},
  "color": {"condition": {"test": "datum.c >= datum.o", "value": "#d42222"}, "value": "#2f9f2f"}}},
{"data": {"name": "c1"}, "mark": {"type": "bar", "size": 3},
 "encoding": {"x": {"field": "i", "type": "quantitative", "axis": null}, "y": {"field": "o", "type": "quantitative"}, "y2": {"field": "c"},
  "color": {"condition": {"test": "datum.c >= datum.o", "value": "#d42222"}, "value": "#2f9f2f"}}},
{"data": {"values": [{"p": 1.0832}]}, "mark": {"type": "rule", "color": "#a0a0a0", "stroke": "#a0a0a0", "strokeWidth": 1},
 "encoding": {"x": {"datum": -0.5, "axis": null}, "x2": {"datum": 73.5}, "y": {"field": "p", "type": "quantitative"}}},
{"data": {"values": [{"p": 1.08}]}, "mark": {"type": "rule", "color": "#e6c830", "stroke": "#e6c830", "strokeWidth": 1},
 "encoding": {"x": {"datum": -0.5, "axis": null}, "x2": {"datum": 73.5}, "y": {"field": "p", "type": "quantitative"}}},
{"data": {"name": "l1"}, "transform": [{"filter": "datum.s == 'g'"}], "mark": {"type": "line", "clip": true, "color": "#1f8a1f", "strokeWidth": 3},
 "encoding": {"x": {"field": "i", "type": "quantitative", "axis": null}, "y": {"field": "p", "type": "quantitative"}}},
{"data": {"name": "l1"}, "transform": [{"filter": "datum.s == 'b'"}], "mark": {"type": "line", "clip": true, "color": "#2222b8", "strokeWidth": 1.5},
 "encoding": {"x": {"field": "i", "type": "quantitative", "axis": null}, "y": {"field": "p", "type": "quantitative"}}},
{"data": {"name": "l1"}, "transform": [{"filter": "datum.s != 'g' && datum.s != 'b'"}], "mark": {"type": "line", "clip": true, "strokeWidth": 1},
 "encoding": {"x": {"field": "i", "type": "quantitative", "axis": null}, "y": {"field": "p", "type": "quantitative"},
  "color": {"field": "s", "type": "nominal", "legend": null, "scale": {"domain": ["ub","lb","y","cy","pu","pk","w"], "range": ["#d41c1c","#d41c1c","#f0e63c","#40c8c8","#a05ae6","#ff2f92","#ffffff"]}}}},
{"data": {"values": [{}]}, "mark": {"type": "rule", "color": "#ffffff", "strokeWidth": 1},
 "encoding": {"x": {"datum": -0.5, "axis": null}, "x2": {"datum": 73.5}, "y": {"datum": 1.08499}}},
{"data": {"name": "lab1"}, "mark": {"type": "point", "shape": "M-1,-0.314L1,-0.314L1,0.314L-1,0.314Z", "size": 1225, "filled": true, "opacity": 1, "strokeWidth": 0},
 "encoding": {"x": {"datum": 78.5, "axis": null}, "y": {"field": "p", "type": "quantitative"},
  "color": {"condition": {"test": "datum.k == 'bid'", "value": "#ffffff"}, "value": "#e41c1c"}}},
{"data": {"name": "lab1"}, "mark": {"type": "text", "align": "center", "baseline": "middle", "fontSize": 10, "font": "Liberation Sans"},
 "encoding": {"x": {"datum": 78.5, "axis": null}, "y": {"field": "p", "type": "quantitative"}, "text": {"field": "t"},
  "color": {"condition": {"test": "datum.k == 'bid'", "value": "#000000"}, "value": "#ffffff"}}},
{"data": {"values": [{}]}, "mark": {"type": "point", "shape": "M-1,-0.6L1,-0.6L0,0.6Z", "size": 64, "filled": true, "opacity": 1, "color": "#a8a8b0"},
 "encoding": {"x": {"datum": 54.25, "axis": null}, "y": {"datum": 1.08494}}},
{"data": {"values": [{"t": "1.0813 1.0835 1.0813 1.0832"}]}, "mark": {"type": "text", "align": "left", "baseline": "alphabetic", "color": "#ffffff", "fontSize": 10, "font": "Liberation Sans", "dy": 16},
 "encoding": {"x": {"datum": -0.5, "axis": null}, "y": {"datum": 1.08509}, "text": {"field": "t"}}}
]
},
{"width": 41, "height": 390, "data": {"values": [{}]}, "mark": {"type": "rule", "opacity": 0}, "encoding": {}},
{"width": 13, "height": 390, "view": {"fill": "#7080d4", "stroke": "#b8bccc", "strokeWidth": 1}, "data": {"values": [{}]}, "mark": {"type": "rule", "opacity": 0}, "encoding": {}},
{
"width": 378, "height": 390,
"layer": [
{"data": {"name": "c2"}, "mark": {"type": "rule", "strokeWidth": 1},
 "encoding": {"x": {"field": "i", "type": "quantitative", "axis": null, "scale": {"domain": [-0.5, 94], "nice": false, "zero": false, "padding": 0}},
  "y": {"field": "l", "type": "quantitative", "scale": {"domain": [1.07122, 1.08514], "nice": false, "zero": false, "padding": 0},
   "axis": {"orient": "right", "values": [1.0715,1.073,1.0745,1.076,1.0775,1.079,1.0805,1.082,1.0835,1.085], "tickCount": 40, "format": ".4f", "title": null, "grid": false, "labelColor": "#ffffff", "labelFont": "Liberation Sans", "labelFontSize": 10, "labelAlign": "left", "labelBaseline": "middle", "labelPadding": 2, "labelOverlap": false, "labelFlush": false, "tickColor": "#ffffff", "tickSize": 3, "domainColor": "#ffffff", "domainWidth": 1}},
  "y2": {"field": "h"},
  "color": {"condition": {"test": "datum.c >= datum.o", "value": "#d42222"}, "value": "#2f9f2f"}}},
{"data": {"name": "c2"}, "mark": {"type": "bar", "size": 3},
 "encoding": {"x": {"field": "i", "type": "quantitative", "axis": null}, "y": {"field": "o", "type": "quantitative"}, "y2": {"field": "c"},
  "color": {"condition": {"test": "datum.c >= datum.o", "value": "#d42222"}, "value": "#2f9f2f"}}},
{"data": {"values": [{"p": 1.0832}]}, "mark": {"type": "rule", "color": "#a0a0a0", "stroke": "#a0a0a0", "strokeWidth": 1},
 "encoding": {"x": {"datum": -0.5, "axis": null}, "x2": {"datum": 94}, "y": {"field": "p", "type": "quantitative"}}},
{"data": {"name": "l2"}, "transform": [{"filter": "datum.s == 'g'"}], "mark": {"type": "line", "clip": true, "color": "#1f8a1f", "strokeWidth": 3},
 "encoding": {"x": {"field": "i", "type": "quantitative", "axis": null}, "y": {"field": "p", "type": "quantitative"}}},
{"data": {"name": "l2"}, "transform": [{"filter": "datum.s == 'b'"}], "mark": {"type": "line", "clip": true, "color": "#2222b8", "strokeWidth": 1.5},
 "encoding": {"x": {"field": "i", "type": "quantitative", "axis": null}, "y": {"field": "p", "type": "quantitative"}}},
{"data": {"name": "l2"}, "transform": [{"filter": "datum.s != 'g' && datum.s != 'b'"}], "mark": {"type": "line", "clip": true, "strokeWidth": 1},
 "encoding": {"x": {"field": "i", "type": "quantitative", "axis": null}, "y": {"field": "p", "type": "quantitative"},
  "color": {"field": "s", "type": "nominal", "legend": null, "scale": {"domain": ["ub","lb","y","cy","pu","pk","w"], "range": ["#d41c1c","#d41c1c","#f0e63c","#40c8c8","#a05ae6","#ff2f92","#ffffff"]}}}},
{"data": {"values": [{}]}, "mark": {"type": "rule", "color": "#ffffff", "strokeWidth": 1},
 "encoding": {"x": {"datum": -0.5, "axis": null}, "x2": {"datum": 94}, "y": {"datum": 1.08502}}},
{"data": {"values": [{}]}, "mark": {"type": "rule", "color": "#ffffff", "strokeWidth": 1},
 "encoding": {"x": {"datum": -0.375, "axis": null}, "y": {"datum": 1.08502}, "y2": {"datum": 1.07122}}},
{"data": {"name": "lab2"}, "mark": {"type": "point", "shape": "M-1,-0.314L1,-0.314L1,0.314L-1,0.314Z", "size": 1225, "filled": true, "opacity": 1, "strokeWidth": 0},
 "encoding": {"x": {"datum": 99, "axis": null}, "y": {"field": "p", "type": "quantitative"},
  "color": {"condition": {"test": "datum.k == 'bid'", "value": "#ffffff"}, "value": "#e41c1c"}}},
{"data": {"name": "lab2"}, "mark": {"type": "text", "align": "center", "baseline": "middle", "fontSize": 10, "font": "Liberation Sans"},
 "encoding": {"x": {"datum": 99, "axis": null}, "y": {"field": "p", "type": "quantitative"}, "text": {"field": "t"},
  "color": {"condition": {"test": "datum.k == 'bid'", "value": "#000000"}, "value": "#ffffff"}}},
{"data": {"values": [{}]}, "mark": {"type": "point", "shape": "M-1,-0.6L1,-0.6L0,0.6Z", "size": 64, "filled": true, "opacity": 1, "color": "#a8a8b0"},
 "encoding": {"x": {"datum": 74.75, "axis": null}, "y": {"datum": 1.08494}}},
{"data": {"values": [{"t": "▼ EURUSD,M30\u00a0\u00a01.0813 1.0835 1.0813 1.0832"}]}, "mark": {"type": "text", "align": "left", "baseline": "alphabetic", "color": "#ffffff", "fontSize": 10, "font": "Liberation Sans", "dx": 5, "dy": 16},
 "encoding": {"x": {"datum": -0.5, "axis": null}, "y": {"datum": 1.08514}, "text": {"field": "t"}}}
]
},
{"width": 39, "height": 390, "data": {"values": [{}]}, "mark": {"type": "rule", "opacity": 0}, "encoding": {}},
{"width": 15, "height": 390, "view": {"fill": "#7080d4", "stroke": "#b8bccc", "strokeWidth": 1}, "data": {"values": [{}]}, "mark": {"type": "rule", "opacity": 0}, "encoding": {}},
{
"width": 378, "height": 390,
"layer": [
{"data": {"name": "c3"}, "mark": {"type": "rule", "strokeWidth": 1},
 "encoding": {"x": {"field": "i", "type": "quantitative", "axis": null, "scale": {"domain": [-0.5, 94], "nice": false, "zero": false, "padding": 0}},
  "y": {"field": "l", "type": "quantitative", "scale": {"domain": [1.07031, 1.08821], "nice": false, "zero": false, "padding": 0},
   "axis": {"orient": "right", "values": [1.0705,1.072,1.0735,1.075,1.077,1.0785,1.08,1.0815,1.0835,1.085,1.0865], "tickCount": 40, "format": ".4f", "title": null, "grid": false, "labelColor": "#ffffff", "labelFont": "Liberation Sans", "labelFontSize": 10, "labelAlign": "left", "labelBaseline": "middle", "labelPadding": 2, "labelOverlap": false, "labelFlush": false, "tickColor": "#ffffff", "tickSize": 3, "domainColor": "#ffffff", "domainWidth": 1}},
  "y2": {"field": "h"},
  "color": {"condition": {"test": "datum.c >= datum.o", "value": "#d42222"}, "value": "#2f9f2f"}}},
{"data": {"name": "c3"}, "mark": {"type": "bar", "size": 3},
 "encoding": {"x": {"field": "i", "type": "quantitative", "axis": null}, "y": {"field": "o", "type": "quantitative"}, "y2": {"field": "c"},
  "color": {"condition": {"test": "datum.c >= datum.o", "value": "#d42222"}, "value": "#2f9f2f"}}},
{"data": {"values": [{"p": 1.0832}]}, "mark": {"type": "rule", "color": "#a0a0a0", "stroke": "#a0a0a0", "strokeWidth": 1},
 "encoding": {"x": {"datum": -0.5, "axis": null}, "x2": {"datum": 94}, "y": {"field": "p", "type": "quantitative"}}},
{"data": {"values": [{"p": 1.0867}, {"p": 1.0767}]}, "mark": {"type": "rule", "color": "#cc2020", "stroke": "#cc2020", "strokeWidth": 1, "strokeDash": [3, 2]},
 "encoding": {"x": {"datum": -0.5, "axis": null}, "x2": {"datum": 94}, "y": {"field": "p", "type": "quantitative"}}},
{"data": {"name": "l3"}, "transform": [{"filter": "datum.s == 'g'"}], "mark": {"type": "line", "clip": true, "color": "#1f8a1f", "strokeWidth": 3},
 "encoding": {"x": {"field": "i", "type": "quantitative", "axis": null}, "y": {"field": "p", "type": "quantitative"}}},
{"data": {"name": "l3"}, "transform": [{"filter": "datum.s == 'b'"}], "mark": {"type": "line", "clip": true, "color": "#2222b8", "strokeWidth": 1.5},
 "encoding": {"x": {"field": "i", "type": "quantitative", "axis": null}, "y": {"field": "p", "type": "quantitative"}}},
{"data": {"name": "l3"}, "transform": [{"filter": "datum.s != 'g' && datum.s != 'b'"}], "mark": {"type": "line", "clip": true, "strokeWidth": 1},
 "encoding": {"x": {"field": "i", "type": "quantitative", "axis": null}, "y": {"field": "p", "type": "quantitative"},
  "color": {"field": "s", "type": "nominal", "legend": null, "scale": {"domain": ["ub","lb","y","cy","pu","pk","w"], "range": ["#d41c1c","#d41c1c","#f0e63c","#40c8c8","#a05ae6","#ff2f92","#ffffff"]}}}},
{"data": {"values": [{}]}, "mark": {"type": "rule", "color": "#ffffff", "strokeWidth": 1},
 "encoding": {"x": {"datum": -0.5, "axis": null}, "x2": {"datum": 94}, "y": {"datum": 1.08805}}},
{"data": {"values": [{}]}, "mark": {"type": "rule", "color": "#ffffff", "strokeWidth": 1},
 "encoding": {"x": {"datum": -0.375, "axis": null}, "y": {"datum": 1.08805}, "y2": {"datum": 1.07031}}},
{"data": {"name": "lab3"}, "mark": {"type": "point", "shape": "M-1,-0.314L1,-0.314L1,0.314L-1,0.314Z", "size": 1225, "filled": true, "opacity": 1, "strokeWidth": 0},
 "encoding": {"x": {"datum": 99, "axis": null}, "y": {"field": "p", "type": "quantitative"},
  "color": {"condition": {"test": "datum.k == 'bid'", "value": "#ffffff"}, "value": "#e41c1c"}}},
{"data": {"name": "lab3"}, "mark": {"type": "text", "align": "center", "baseline": "middle", "fontSize": 10, "font": "Liberation Sans"},
 "encoding": {"x": {"datum": 99, "axis": null}, "y": {"field": "p", "type": "quantitative"}, "text": {"field": "t"},
  "color": {"condition": {"test": "datum.k == 'bid'", "value": "#000000"}, "value": "#ffffff"}}},
{"data": {"values": [{}]}, "mark": {"type": "point", "shape": "M-1,-0.6L1,-0.6L0,0.6Z", "size": 64, "filled": true, "opacity": 1, "color": "#a8a8b0"},
 "encoding": {"x": {"datum": 74.75, "axis": null}, "y": {"datum": 1.08796}}},
{"data": {"values": [{"t": "▼ EURUSD,H1\u00a0\u00a01.0826 1.0835 1.0807 1.0832"}]}, "mark": {"type": "text", "align": "left", "baseline": "alphabetic", "color": "#ffffff", "fontSize": 10, "font": "Liberation Sans", "dx": 5, "dy": 16},
 "encoding": {"x": {"datum": -0.5, "axis": null}, "y": {"datum": 1.08821}, "text": {"field": "t"}}}
]
},
{"width": 39, "height": 390, "data": {"values": [{}]}, "mark": {"type": "rule", "opacity": 0}, "encoding": {}}
]
}
